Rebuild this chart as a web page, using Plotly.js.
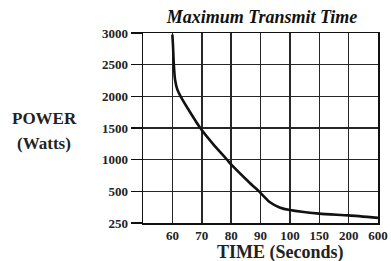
<!DOCTYPE html>
<html>
<head>
<meta charset="utf-8">
<script src="https://cdn.plot.ly/plotly-3.0.1.min.js"></script>
<style>html,body{margin:0;padding:0;background:#fff;}#chart{width:391px;height:261px;}</style>
</head>
<body>
<div id="chart"></div>
<script>
// Data
var timeSeconds = [60, 60.2, 60.5, 60.9, 61.7, 62.8, 66.2, 69.5, 73.8, 78.6, 80, 86.2, 89.5, 93.1, 96.5, 100, 150, 200, 600];
var powerWatts  = [2975, 2815, 2500, 2265, 2105, 2000, 1737, 1500, 1250, 1000, 925, 640, 500, 416, 373, 352, 324, 310, 290];

// Axis scale breakpoints (equally spaced on the chart)
var xScaleValues = [50, 60, 70, 80, 90, 100, 150, 200, 600];
var xTickLabels  = ['', '60', '70', '80', '90', '100', '150', '200', '600'];
var yScaleValues = [250, 500, 1000, 1500, 2000, 2500, 3000];
var yTickLabels  = ['250', '500', '1000', '1500', '2000', '2500', '3000'];

// piecewise-linear scale: value -> equally spaced grid position
function toGrid(v, scale) {
  for (var i = 0; i < scale.length - 1; i++) {
    if (v <= scale[i + 1] || i === scale.length - 2) {
      return i + (v - scale[i]) / (scale[i + 1] - scale[i]);
    }
  }
}
var xIdx = xScaleValues.map(function (_, i) { return i; });
var yIdx = yScaleValues.map(function (_, i) { return i; });

var serif = "'Liberation Serif', 'Times New Roman', serif";

var trace = {
  x: timeSeconds.map(function (t) { return toGrid(t, xScaleValues); }),
  y: powerWatts.map(function (p) { return toGrid(p, yScaleValues); }),
  mode: 'lines',
  line: {color: '#111', width: 2.6, shape: 'spline', smoothing: 0.6},
  hoverinfo: 'skip'
};

var layout = {
  width: 391, height: 261,
  margin: {l: 143, r: 13, t: 33, b: 38},
  paper_bgcolor: '#fff', plot_bgcolor: '#fff',
  showlegend: false,
  title: {
    text: '<b><i>Maximum Transmit Time</i></b>',
    font: {family: serif, size: 18, color: '#111'},
    x: 0.67, xanchor: 'center', y: 0.935, yanchor: 'middle'
  },
  xaxis: {
    range: [0, 8], fixedrange: true,
    tickmode: 'array', tickvals: xIdx, ticktext: xTickLabels,
    showgrid: true, gridcolor: '#262626', gridwidth: 1.5,
    showline: true, linecolor: '#111', linewidth: 1.5, mirror: true,
    ticks: '', zeroline: false,
    tickfont: {family: serif, size: 13, color: '#222', weight: 'bold'}
  },
  yaxis: {
    range: [0, 6], fixedrange: true,
    tickmode: 'array', tickvals: yIdx, ticktext: yTickLabels,
    showgrid: true, gridcolor: '#262626', gridwidth: 1.5,
    showline: true, linecolor: '#111', linewidth: 1.5, mirror: true,
    ticks: 'outside', ticklen: 11, tickwidth: 1.5, tickcolor: '#111',
    zeroline: false,
    tickfont: {family: serif, size: 13, color: '#222', weight: 'bold'}
  },
  annotations: [
    {text: '<b>POWER</b>', xref: 'paper', yref: 'paper', x: -0.42, y: 0.55,
     xanchor: 'center', yanchor: 'middle', showarrow: false,
     font: {family: serif, size: 17, color: '#222'}},
    {text: '<b>(Watts)</b>', xref: 'paper', yref: 'paper', x: -0.42, y: 0.42,
     xanchor: 'center', yanchor: 'middle', showarrow: false,
     font: {family: serif, size: 17, color: '#222'}},
    {text: '<b>TIME (Seconds)</b>', xref: 'paper', yref: 'paper', x: 0.585, y: -0.155,
     xanchor: 'center', yanchor: 'middle', showarrow: false,
     font: {family: serif, size: 18, color: '#222'}}
  ]
};

Plotly.newPlot('chart', [trace], layout, {displayModeBar: false, staticPlot: true});
</script>
</body>
</html>
